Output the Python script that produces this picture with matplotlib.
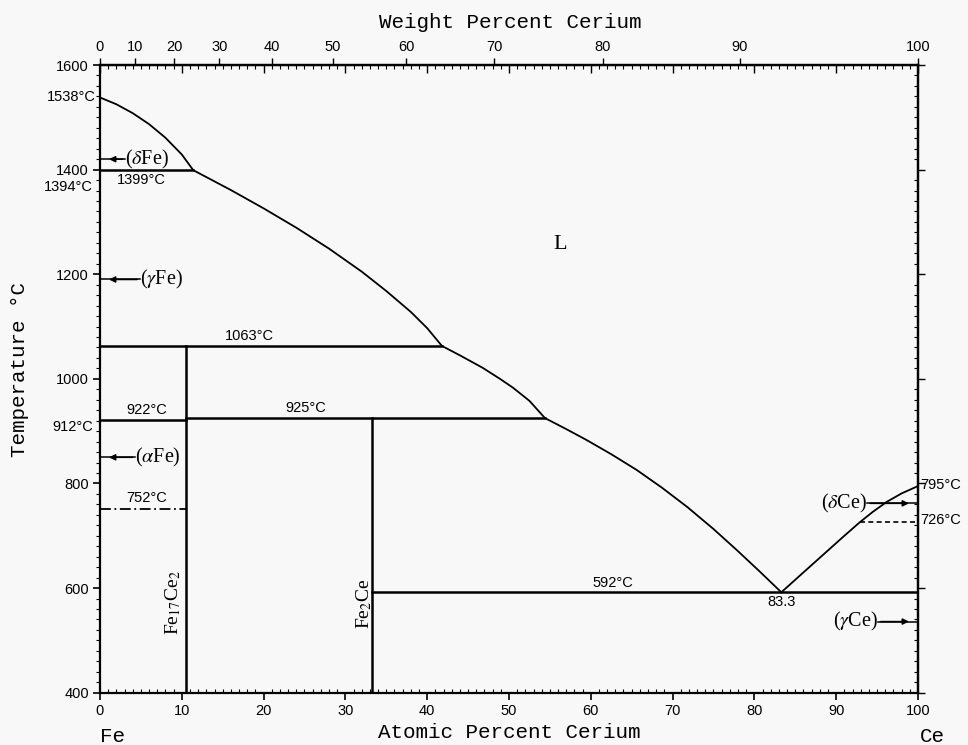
import numpy as np
import matplotlib
matplotlib.use('Agg')
import matplotlib.pyplot as plt

plt.rcParams['font.family'] = ['Liberation Sans', 'DejaVu Sans']
plt.rcParams['mathtext.fontset'] = 'stix'

# liquidus segments (atomic % Ce, temperature C)
liq_fe_x = [0, 2, 4, 6, 8, 10, 11.4]
liq_fe_t = [1538, 1525, 1508, 1487, 1461, 1429, 1399]
liq1_x = [11.4, 16, 20, 24, 28, 32, 35, 38, 40, 41.8]
liq1_t = [1399, 1361, 1326, 1289, 1249, 1205, 1168, 1128, 1097, 1063]
liq2_x = [41.8, 44, 46.8, 49, 50.5, 52.5, 54.4]
liq2_t = [1063, 1045, 1021, 999, 983, 958, 925]
liq3_x = [54.4, 57, 59.5, 62.5, 65.6, 68.7, 71.8, 75, 77.9, 80.5, 83.3]
liq3_t = [925, 904, 883, 856, 826, 792, 755, 713, 672, 634, 592]
liq4_x = [83.3, 86, 89, 91, 92.9, 94.5, 96.2, 98, 100]
liq4_t = [592, 630, 672, 700, 726, 746, 765, 781, 795]

# invariant lines
fe17ce2_x = 10.5
fe2ce_x = 33.3
t_1399 = 1399
t_1063 = 1063
t_922 = 922
t_925 = 925
t_752 = 752
t_592 = 592
t_726 = 726
eut_x = 83.3

# phase arrows: label, temperature, text edge (at.%), spine side
phase_labels = [r'($\delta$Fe)', r'($\gamma$Fe)', r'($\alpha$Fe)',
                r'($\delta$Ce)', r'($\gamma$Ce)']
phase_temps = [1420, 1190, 850, 762, 536]
phase_text_x = [3.1, 4.9, 4.3, 93.8, 95.1]
phase_side = [0, 0, 0, 100, 100]

M_FE = 55.845
M_CE = 140.12


def at_to_wt(a):
    a = np.asarray(a, dtype=float)
    with np.errstate(divide='ignore', invalid='ignore'):
        return 100 * a * M_CE / (a * M_CE + (100 - a) * M_FE)


def wt_to_at(w):
    w = np.asarray(w, dtype=float)
    with np.errstate(divide='ignore', invalid='ignore'):
        return 100 * (w / M_CE) / (w / M_CE + (100 - w) / M_FE)


fig = plt.figure(figsize=(9.68, 7.45), dpi=100, facecolor='#f8f8f8')
ax = fig.add_axes([0.1033, 0.0702, 0.845, 0.8425])
ax.set_facecolor('#f8f8f8')
ax.set_xlim(0, 100)
ax.set_ylim(400, 1600)

lk = dict(color='black', lw=1.3, solid_joinstyle='round')
hk = dict(color='black', lw=1.8)
for xs, ts in [(liq_fe_x, liq_fe_t), (liq1_x, liq1_t), (liq2_x, liq2_t),
               (liq3_x, liq3_t), (liq4_x, liq4_t)]:
    ax.plot(xs, ts, **lk)

ax.plot([0, liq1_x[0]], [t_1399, t_1399], **hk)
ax.plot([0, liq2_x[0]], [t_1063, t_1063], **hk)
ax.plot([0, fe17ce2_x], [t_922, t_922], **hk)
ax.plot([fe17ce2_x, liq3_x[0]], [t_925, t_925], **hk)
ax.plot([fe2ce_x, 100], [t_592, t_592], **hk)
ax.plot([fe17ce2_x, fe17ce2_x], [400, t_1063], **hk)
ax.plot([fe2ce_x, fe2ce_x], [400, t_925], **hk)
ax.plot([0, fe17ce2_x], [t_752, t_752], color='black', lw=1.3, ls=(0, (6, 2, 1, 2)))
ax.plot([liq4_x[4], 100], [t_726, t_726], color='black', lw=1.2, ls=(0, (3, 2)))

for s in ax.spines.values():
    s.set_linewidth(1.6)

# bottom axis: atomic percent
ax.set_xticks(np.arange(0, 101, 10))
ax.set_xticks(np.arange(0, 101, 1), minor=True)
ax.tick_params(axis='x', which='major', direction='out', length=5, width=1.2,
               labelsize=10.5, pad=3)
ax.tick_params(axis='x', which='minor', direction='in', length=3, width=0.8)
ax.set_yticks(np.arange(400, 1601, 200))
ax.set_yticks(np.arange(400, 1601, 20), minor=True)
ax.tick_params(axis='y', which='major', direction='out', length=5, width=1.2,
               labelsize=10.5, pad=3)
ax.tick_params(axis='y', which='minor', direction='out', length=3, width=0.8)

# top axis: atomic percent ticks inside, weight percent labels outside
top_at = ax.secondary_xaxis('top')
top_at.set_xticks(np.arange(0, 101, 10))
top_at.set_xticks(np.arange(0, 101, 1), minor=True)
top_at.tick_params(which='major', direction='in', length=6, width=1.0, labeltop=False)
top_at.tick_params(which='minor', direction='in', length=3, width=0.8)
top_at.spines['top'].set_linewidth(1.6)

top_wt = ax.secondary_xaxis('top', functions=(at_to_wt, wt_to_at))
top_wt.set_xticks(np.arange(0, 101, 10))
top_wt.tick_params(which='major', direction='out', length=5, width=1.0,
                   labelsize=10.5, pad=3)
top_wt.tick_params(which='minor', length=0)

right = ax.secondary_yaxis('right')
right.set_yticks(np.arange(400, 1601, 200))
right.set_yticks(np.arange(400, 1601, 20), minor=True)
right.tick_params(which='major', direction='out', length=5, width=1.0, labelright=False)
right.tick_params(which='minor', direction='in', length=3, width=0.8)
right.spines['right'].set_linewidth(1.6)

# axis titles
mono = 'Liberation Mono'
fig.text(510 / 968, 1 - 22 / 745, 'Weight Percent Cerium', family=mono,
         fontsize=15, ha='center', va='center')
fig.text(509 / 968, 1 - 733 / 745, 'Atomic Percent Cerium', family=mono,
         fontsize=15, ha='center', va='center')
fig.text(20 / 968, 1 - 370 / 745, 'Temperature °C', family=mono,
         fontsize=15, ha='center', va='center', rotation=90)
fig.text(113 / 968, 1 - 737 / 745, 'Fe', family=mono, fontsize=15,
         ha='center', va='center')
fig.text(932 / 968, 1 - 737 / 745, 'Ce', family=mono, fontsize=15,
         ha='center', va='center')

# temperature labels
fs = 10.5
ax.text(18.3, t_1063 + 6, '1063°C', fontsize=fs, ha='center', va='bottom')
ax.text(5.7, t_922 + 6, '922°C', fontsize=fs, ha='center', va='bottom')
ax.text(25.1, t_925 + 6, '925°C', fontsize=fs, ha='center', va='bottom')
ax.text(5.7, t_752 + 6, '752°C', fontsize=fs, ha='center', va='bottom')
ax.text(62.7, t_592 + 5, '592°C', fontsize=fs, ha='center', va='bottom')
ax.text(eut_x, t_592 - 5, '83.3', fontsize=fs, ha='center', va='top')
ax.text(5.1, t_1399 - 5, '1399°C', fontsize=fs, ha='center', va='top')
ax.text(-0.5, 1538, '1538°C', fontsize=fs, ha='right', va='center', clip_on=False)
ax.text(-0.9, 1366, '1394°C', fontsize=fs, ha='right', va='center', clip_on=False)
ax.text(-0.9, 908, '912°C', fontsize=fs, ha='right', va='center', clip_on=False)
ax.text(100.3, 797, '795°C', fontsize=fs, ha='left', va='center', clip_on=False)
ax.text(100.3, 730, '726°C', fontsize=fs, ha='left', va='center', clip_on=False)

# phase labels with arrows to the pure-element axes
serif = 'Liberation Serif'
ax.text(56.2, 1256, 'L', family=serif, fontsize=16, ha='center', va='center')
arrow = dict(arrowstyle='-|>', color='black', lw=1.1, mutation_scale=9,
             shrinkA=0, shrinkB=0)
for lab, t, tx, side in zip(phase_labels, phase_temps, phase_text_x, phase_side):
    tip = side + (1.1 if side == 0 else -1.1)
    ax.plot([tx, side], [t, t], color='black', lw=1.1)
    ax.annotate(lab, xy=(tip, t), xytext=(tx, t), family=serif, fontsize=14.5,
                ha='left' if side == 0 else 'right', va='center',
                arrowprops=arrow)

ax.text(8.9, 573, r'Fe$_{17}$Ce$_2$', family=serif, fontsize=14,
        ha='center', va='center', rotation=90)
ax.text(32.3, 571, r'Fe$_2$Ce', family=serif, fontsize=14,
        ha='center', va='center', rotation=90)

fig.savefig('out.png', dpi=100, facecolor=fig.get_facecolor())
